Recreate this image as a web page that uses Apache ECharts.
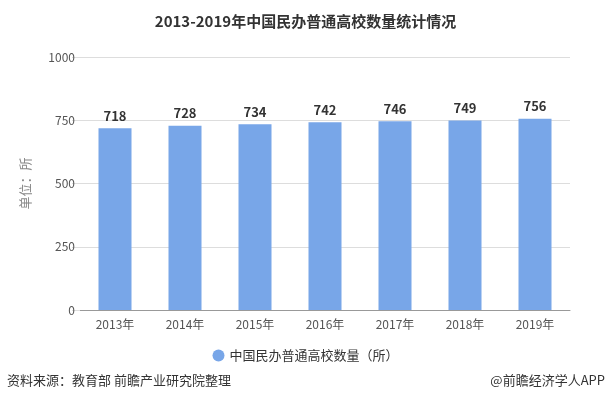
<!DOCTYPE html>
<html><head><meta charset="utf-8">
<script src="https://cdn.jsdelivr.net/npm/echarts@6/dist/echarts.min.js"></script>
<style>html,body{margin:0;padding:0;background:#fff}#c{width:611px;height:412px}</style>
</head><body><div id="c"></div>
<script>
const categories = ['2013年','2014年','2015年','2016年','2017年','2018年','2019年'];
const values = [718, 728, 734, 742, 746, 749, 756];
const seriesName = '中国民办普通高校数量（所）';
const FONT = '"Noto Sans CJK SC", "Microsoft YaHei", sans-serif';
const chart = echarts.init(document.getElementById('c'));
chart.setOption({
  animation: false,
  textStyle: {fontFamily: FONT},
  title: {text: '2013-2019年中国民办普通高校数量统计情况', left: 'center', top: 9,
    textStyle: {fontSize: 15, fontWeight: 'bold', color: '#333', fontFamily: FONT}},
  grid: {left: 80, right: 41, top: 57, bottom: 102},
  legend: {data: [seriesName], bottom: 45, left: 'center', icon: 'circle', itemWidth: 12, itemHeight: 12,
    textStyle: {fontSize: 13, color: '#333', fontFamily: FONT}},
  graphic: [
    {type: 'text', left: 7, top: 374, style: {text: '资料来源：教育部 前瞻产业研究院整理', fontSize: 13, fill: '#333', fontFamily: FONT}},
    {type: 'text', right: 6, top: 374, style: {text: '@前瞻经济学人APP', fontSize: 13, fill: '#333', fontFamily: FONT}}
  ],
  xAxis: {type: 'category', data: categories,
    axisLine: {lineStyle: {color: '#999'}},
    axisTick: {alignWithLabel: true, length: 5, lineStyle: {color: '#999'}},
    axisLabel: {fontSize: 12, color: '#555', margin: 8}},
  yAxis: {type: 'value', min: 0, max: 1000, interval: 250,
    name: '单位：所', nameLocation: 'middle', nameGap: 48, nameRotate: 90,
    nameTextStyle: {fontSize: 13, color: '#888'},
    axisLine: {show: false},
    axisTick: {show: true, length: 8, lineStyle: {color: '#ddd'}},
    axisLabel: {fontSize: 12, color: '#555', margin: 5, formatter: v => String(v)},
    splitLine: {lineStyle: {color: '#ddd'}}},
  series: [{name: seriesName, type: 'bar', data: values, barWidth: 33,
    itemStyle: {color: '#78a6e8'},
    label: {show: true, position: 'top', fontSize: 13, fontWeight: 'bold', color: '#333', distance: 6}}]
});
</script></body></html>
